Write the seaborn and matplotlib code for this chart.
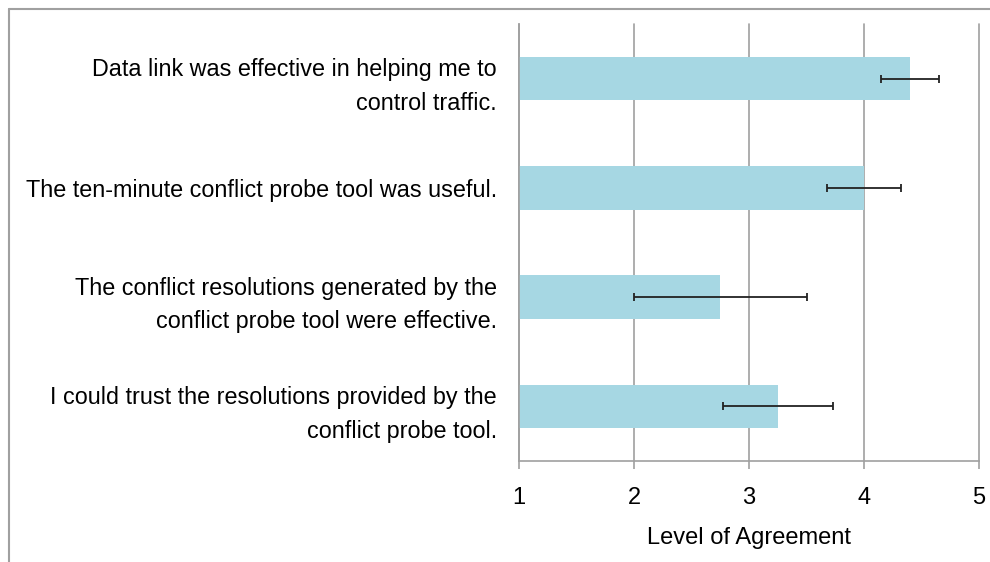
import matplotlib
matplotlib.use('Agg')
import matplotlib.pyplot as plt
import seaborn as sns
import pandas as pd
from matplotlib.lines import Line2D

# Podaci
statements = [
    'Data link was effective in helping me to\ncontrol traffic.',
    'The ten-minute conflict probe tool was useful.',
    'The conflict resolutions generated by the\nconflict probe tool were effective.',
    'I could trust the resolutions provided by the\nconflict probe tool.',
]
agreement = [4.40, 4.00, 2.75, 3.25]
agreement_err = [0.25, 0.32, 0.75, 0.48]
x_ticks = [1, 2, 3, 4, 5]

sns.set_style('white')
plt.rcParams['font.family'] = ['Liberation Sans', 'DejaVu Sans']
plt.rcParams['text.color'] = 'black'
plt.rcParams['xtick.labelcolor'] = 'black'
plt.rcParams['ytick.labelcolor'] = 'black'
plt.rcParams['axes.labelcolor'] = 'black'

df = pd.DataFrame({'Statement': statements, 'Agreement': agreement, 'Err': agreement_err})

fig = plt.figure(figsize=(9.9, 5.62), dpi=100)
ax = fig.add_axes([519 / 990, 1 - 461 / 562, 460 / 990, 437 / 562])

sns.barplot(data=df, x='Agreement', y='Statement', orient='h', color='#A6D7E3',
            width=0.4, errorbar=None, linewidth=0, saturation=1, ax=ax, zorder=2)
ax.errorbar(df['Agreement'], range(len(df)), xerr=df['Err'], fmt='none',
            ecolor='#222222', elinewidth=1.3, capsize=3, capthick=1.3, zorder=3)

ax.set_xlim(1, 5)
ax.set_ylim(len(df) - 0.5, -0.5)
ax.set_xticks(x_ticks)
ax.set_xticklabels([str(t) for t in x_ticks], fontsize=17)
ax.tick_params(axis='x', length=6, width=1.2, color='#A0A0A0', pad=13, direction='out', bottom=True)
ax.tick_params(axis='y', length=0, pad=16, labelsize=16.8)
for lbl in ax.get_yticklabels():
    lbl.set_horizontalalignment('right')
    lbl.set_multialignment('right')
    lbl.set_linespacing(1.6)

ax.grid(axis='x', color='#A0A0A0', linewidth=1.2, zorder=0)
for gl in ax.get_xgridlines():
    gl.set_clip_on(False)
ax.set_axisbelow(True)
for side in ['top', 'right']:
    ax.spines[side].set_visible(False)
for side in ['left', 'bottom']:
    ax.spines[side].set_color('#A0A0A0')
    ax.spines[side].set_linewidth(1.2)

ax.set_ylabel('')
ax.set_xlabel('Level of Agreement', fontsize=17, labelpad=13)

# Okvir slike
fx = 8.5 / 990
fy = 1 - 8.5 / 562
fig.add_artist(Line2D([fx, fx], [0, fy], transform=fig.transFigure, color='#A0A0A0', linewidth=1.5))
fig.add_artist(Line2D([fx, 1], [fy, fy], transform=fig.transFigure, color='#A0A0A0', linewidth=1.5))

fig.savefig('out.png', dpi=100)
